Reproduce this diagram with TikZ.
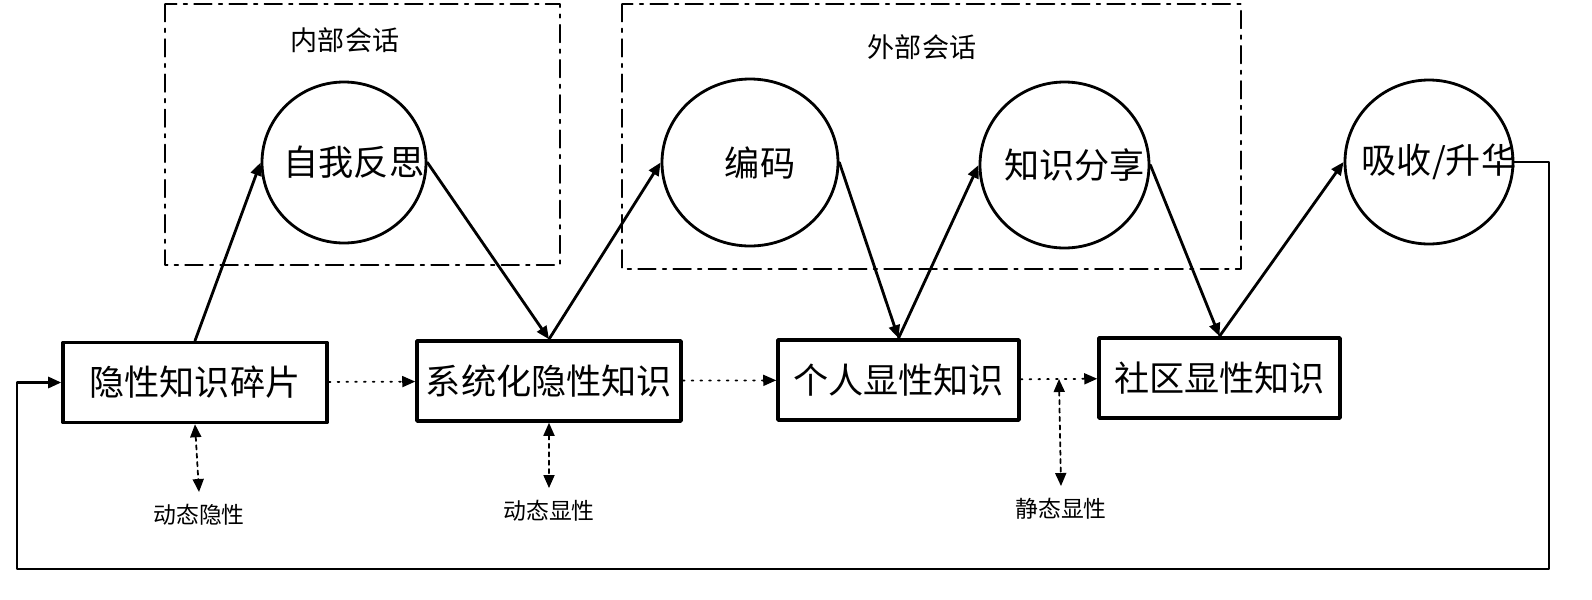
\documentclass[tikz,border=0pt]{standalone}
\usepackage{fontspec}
\setmainfont{Noto Sans CJK SC}
\usetikzlibrary{arrows.meta,shapes.geometric}
\begin{document}
\begin{tikzpicture}[line cap=round,line join=round,
box/.style={draw,line width=1pt,minimum height=0.8cm,inner sep=0pt,font=\fontsize{10}{12}\selectfont},
ring/.style={draw,ellipse,line width=0.8pt,inner sep=0pt},
arr/.style={line width=0.8pt,-{Triangle[length=1.3mm,width=1.1mm]}},
dots/.style={line width=0.5pt,dotted,-{Triangle[length=1.3mm,width=1.1mm]}},
both/.style={line width=0.5pt,dash pattern=on 1.2pt off 1.2pt,{Triangle[length=1.3mm,width=1.1mm]}-{Triangle[length=1.3mm,width=1.1mm]}},
small/.style={font=\fontsize{6.5}{8}\selectfont},
frame/.style={line width=0.5pt,dash pattern=on 5pt off 2pt on 1pt off 2pt}]
\useasboundingbox (0,0) rectangle (15.92,-6);
\draw[frame] (1.65,-0.04) rectangle (5.60,-2.65);
\draw[frame] (6.22,-0.04) rectangle (12.41,-2.69);
\node[font=\fontsize{7.7}{9}\selectfont] (inner) at (3.45,-0.40) {内部会话};
\node[font=\fontsize{7.7}{9}\selectfont] (outer) at (9.22,-0.47) {外部会话};
\foreach \n/\x/\y/\w/\t in {b1/1.95/-3.825/2.64/隐性知识碎片, b2/5.49/-3.81/2.64/系统化隐性知识, b3/8.985/-3.80/2.41/个人显性知识, b4/12.195/-3.78/2.41/社区显性知识}
{\node[box,minimum width=\w cm] (\n) at (\x,\y) {\t};}
\foreach \n/\x/\y/\w/\h/\t in {c1/3.44/-1.625/1.64/1.61/自我反思, c2/7.50/-1.625/1.76/1.67/编码, c3/10.645/-1.65/1.69/1.66/知识分享, c4/14.29/-1.62/1.68/1.64/{吸收/升华}}
{\node[ring,minimum width=\w cm,minimum height=\h cm,label={[xshift=1mm,font=\fontsize{10}{12}\selectfont]center:\t}] (\n) at (\x,\y) {};}
\foreach \a/\b in {b1/c1, b2/c2, b3/c3, b4/c4}
{\draw[arr] (\a.north) -- (\b.west);}
\foreach \a/\b in {c1/b2, c2/b3, c3/b4}
{\draw[arr] (\a.east) -- (\b.north);}
\draw[dots] (b1) -- (b2);
\draw[dots] (b2) -- (b3);
\draw[dots] (b3) -- coordinate[pos=.5] (mid) (b4);
\node[small] (l1) at (1.99,-5.15) {动态隐性};
\node[small] (l2) at (5.49,-5.11) {动态显性};
\node[small] (l3) at (10.61,-5.09) {静态显性};
\draw[both] (b1.south) -- (l1.north);
\draw[both] (b2.south) -- (l2.north);
\draw[both] (mid) -- (l3.north);
\coordinate (fr) at (15.49,-5.69);
\coordinate (fl) at (0.17,-5.69);
\draw[arr] (c4.east) -| (fr) -- (fl) |- (b1.west);
\end{tikzpicture}
\end{document}
